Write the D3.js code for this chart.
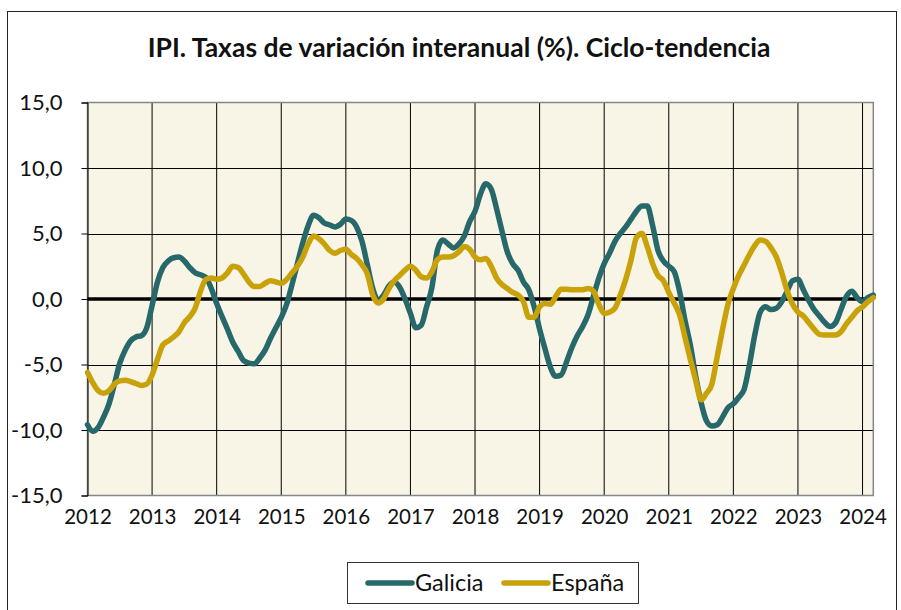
<!DOCTYPE html>
<html><head><meta charset="utf-8">
<script src="https://cdn.jsdelivr.net/npm/d3@7"></script>
<style>
body{margin:0;background:#fff;}
svg{display:block;font-family:Lato,"Noto Sans",sans-serif;}
</style></head>
<body><svg id="c" width="901" height="610"></svg>
<script>
const title = "IPI. Taxas de variación interanual (%). Ciclo-tendencia";
const years = ["2012","2013","2014","2015","2016","2017","2018","2019","2020","2021","2022","2023","2024"];
const yTicks = [-15,-10,-5,0,5,10,15];
const yTickLabels = ["-15,0","-10,0","-5,0","0,0","5,0","10,0","15,0"];
const seriesNames = ["Galicia","España"];
// monthly values, Jan 2012 .. Mar 2024
const galicia = [
 -9.6,-10.1,-9.8,-9.0,-8.0,-6.5,-4.9,-3.9,-3.2,-2.9,-2.8,-2.2,
 -0.5,1.3,2.4,2.9,3.15,3.2,2.9,2.4,2.0,1.85,1.65,0.8,
 -0.35,-1.35,-2.3,-3.3,-4.0,-4.7,-4.9,-4.95,-4.5,-3.9,-3.0,-2.2,
 -1.4,-0.4,1.1,2.7,4.3,5.6,6.4,6.2,5.8,5.65,5.5,5.7,
 6.1,6.0,5.5,4.4,2.6,0.8,-0.1,0.3,1.0,1.3,0.9,0.0,
 -1.1,-2.2,-2.0,-0.6,0.9,3.7,4.5,4.2,3.9,4.2,4.8,5.9,
 6.7,8.0,8.8,8.4,6.9,5.2,3.6,2.7,2.2,1.3,0.7,-0.6,
 -2.3,-3.8,-5.2,-5.9,-5.8,-4.8,-3.7,-2.8,-2.1,-1.2,0.2,1.6,
 2.7,3.5,4.4,5.0,5.5,6.1,6.7,7.1,7.1,5.6,3.7,2.9,
 2.5,2.1,0.6,-1.6,-3.5,-5.9,-7.9,-9.3,-9.7,-9.6,-9.0,-8.3,
 -8.0,-7.5,-6.9,-5.0,-2.7,-1.0,-0.6,-0.8,-0.7,-0.2,0.6,1.4,
 1.5,0.7,-0.1,-0.8,-1.3,-1.8,-2.1,-1.8,-0.8,0.2,0.6,0.1,
 -0.2,0.1,0.3
];
const espana = [
 -5.6,-6.4,-7.0,-7.2,-7.0,-6.5,-6.25,-6.2,-6.3,-6.45,-6.6,-6.5,
 -5.8,-4.6,-3.5,-3.2,-2.9,-2.5,-1.8,-1.35,-0.7,0.6,1.5,1.6,
 1.5,1.6,2.0,2.5,2.4,1.9,1.3,0.95,0.95,1.2,1.4,1.3,
 1.2,1.5,2.0,2.5,3.2,4.2,4.8,4.6,4.2,3.7,3.5,3.7,
 3.8,3.4,3.1,2.6,1.9,0.3,-0.3,0.0,0.8,1.4,1.8,2.2,
 2.5,2.2,1.7,1.6,2.1,3.0,3.2,3.2,3.3,3.6,4.0,3.8,
 3.2,3.0,3.1,2.5,1.6,1.1,0.8,0.5,0.3,-0.2,-1.4,-1.4,
 -0.6,-0.35,-0.4,0.2,0.75,0.75,0.7,0.7,0.7,0.8,0.6,-0.4,
 -1.1,-1.0,-0.7,0.3,1.5,3.0,4.7,5.0,4.0,2.7,1.8,1.4,
 0.5,-0.3,-1.2,-2.9,-4.6,-6.2,-7.7,-7.2,-6.5,-4.4,-2.3,-0.4,
 0.8,1.8,2.6,3.4,4.1,4.5,4.4,3.9,3.2,2.0,0.6,-0.4,
 -1.0,-1.3,-1.8,-2.3,-2.7,-2.75,-2.75,-2.75,-2.5,-1.9,-1.4,-0.9,
 -0.6,-0.2,0.1
];
const colors = ["#27686b","#c9a20a"];

const svg = d3.select("#c");
// outer frame
svg.append("rect").attr("x",7.5).attr("y",11.5).attr("width",889).attr("height",620)
  .attr("fill","#fff").attr("stroke","#222").attr("stroke-width",1);

const L=87.5, R=873.3, T=102.5, B=495.5;
const x = d3.scaleLinear().domain([0, galicia.length-1]).range([L,R]);
const y = d3.scaleLinear().domain([-15,15]).range([B,T]);

svg.append("rect").attr("x",L).attr("y",T).attr("width",R-L).attr("height",B-T).attr("fill","#f8f4e6");

// grid
const g = svg.append("g");
g.selectAll("line.h").data(yTicks.filter(v=>v!==0 && Math.abs(v)!==15)).enter().append("line")
  .attr("x1",L).attr("x2",R).attr("y1",d=>Math.round(y(d))+0.5).attr("y2",d=>Math.round(y(d))+0.5)
  .attr("stroke","#000").attr("stroke-width",1);
g.selectAll("line.v").data(years.map((d,i)=>i*12).filter(v=>v>0)).enter().append("line")
  .attr("y1",T).attr("y2",B).attr("x1",d=>x(d)).attr("x2",d=>x(d))
  .attr("stroke","#000").attr("stroke-width",1);

// border
svg.append("rect").attr("x",L).attr("y",T).attr("width",R-L).attr("height",B-T)
  .attr("fill","none").attr("stroke","#868686").attr("stroke-width",1.5);

// y axis
const yAxis = d3.axisLeft(y).tickValues(yTicks).tickSize(6).tickPadding(19)
  .tickFormat((d,i)=>yTickLabels[i]);
const ya = svg.append("g").attr("transform",`translate(${L},0)`).call(yAxis);
ya.select(".domain").attr("stroke","#000");
ya.selectAll(".tick line").attr("stroke","#000");
ya.selectAll("text").attr("font-size",22).attr("fill","#111").attr("font-family","Lato,sans-serif");

// x axis
const xAxis = d3.axisBottom(x).tickValues(years.map((d,i)=>i*12)).tickSize(0).tickPadding(14)
  .tickFormat((d,i)=>years[i]);
const xa = svg.append("g").attr("transform",`translate(0,${B})`).call(xAxis);
xa.select(".domain").remove();
xa.selectAll("text").attr("font-size",20.5).attr("fill","#111").attr("font-family","Lato,sans-serif");

// zero line
svg.append("line").attr("x1",L).attr("x2",R).attr("y1",y(0)).attr("y2",y(0))
  .attr("stroke","#000").attr("stroke-width",3.5);

// series
const line = d3.line().x((d,i)=>x(i)).y(d=>y(d)).curve(d3.curveMonotoneX);
[galicia, espana].forEach((s,k)=>{
  svg.append("path").datum(s).attr("d",line).attr("fill","none")
    .attr("stroke",colors[k]).attr("stroke-width",5.5).attr("stroke-linejoin","round").attr("stroke-linecap","round");
});

// title
svg.append("text").attr("x",459).attr("y",57).attr("text-anchor","middle")
  .attr("font-size",26.5).attr("font-weight","bold").attr("fill","#111").text(title);

// legend
const lg = svg.append("g");
lg.append("rect").attr("x",347.5).attr("y",562.5).attr("width",291).attr("height",41)
  .attr("fill","#fff").attr("stroke","#333").attr("stroke-width",1);
const lx = [368, 504];
seriesNames.forEach((n,k)=>{
  lg.append("line").attr("x1",lx[k]).attr("x2",lx[k]+44).attr("y1",583).attr("y2",583)
    .attr("stroke",colors[k]).attr("stroke-width",5.5).attr("stroke-linecap","round");
  lg.append("text").attr("x",lx[k]+47).attr("y",591).attr("font-size",23.5).attr("fill","#111").text(n);
});
</script></body></html>
